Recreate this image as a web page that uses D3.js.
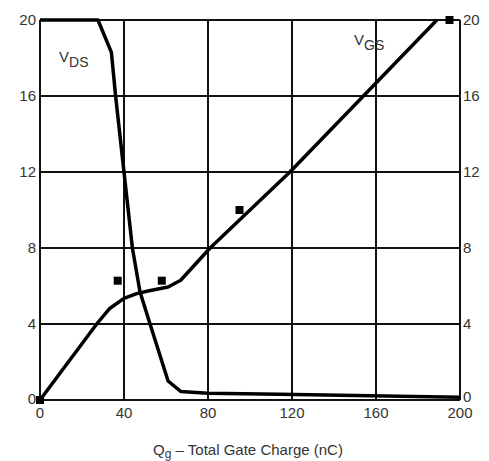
<!DOCTYPE html>
<html>
<head>
<meta charset="utf-8">
<script src="https://cdn.jsdelivr.net/npm/d3@7"></script>
<style>
  body { margin: 0; background: #fff; }
  text { font-family: "Liberation Sans", Arial, sans-serif; fill: #333; }
</style>
</head>
<body>
<div id="chart"></div>
<script>
// data (Qg in nC, volts)
const vdsQ = [0, 27.6, 34, 36, 40, 42, 44, 47.6, 52.4, 61, 67, 80, 114, 143, 200];
const vdsV = [20, 20, 18.3, 16, 12, 10, 8, 5.7, 4, 1, 0.45, 0.35, 0.3, 0.25, 0.15];
const vgsQ = [0, 27, 33, 40, 46, 52, 61, 67, 81, 119, 154, 189];
const vgsV = [0, 4, 4.8, 5.35, 5.6, 5.75, 5.95, 6.3, 8, 12, 16, 20];
const markQ = [0, 37, 58, 95, 195];
const markV = [0, 6.28, 6.28, 10, 20];
const xTicks = [0, 40, 80, 120, 160, 200];
const yTicks = [0, 4, 8, 12, 16, 20];

const width = 489, height = 461;
const plotL = 40, plotR = 460, plotT = 20, plotB = 400;

const svg = d3.select("#chart").append("svg")
	.attr("width", width).attr("height", height);

const x = d3.scaleLinear().domain([0, 200]).range([plotL, plotR]);
const y = d3.scaleLinear().domain([0, 20]).range([plotB, plotT]);

// grid
svg.append("g").selectAll("line").data(xTicks).join("line")
	.attr("x1", d => x(d)).attr("x2", d => x(d))
	.attr("y1", plotT).attr("y2", plotB)
	.attr("stroke", "#111").attr("stroke-width", 2);
svg.append("g").selectAll("line").data(yTicks).join("line")
	.attr("x1", plotL).attr("x2", plotR)
	.attr("y1", d => y(d)).attr("y2", d => y(d))
	.attr("stroke", "#111").attr("stroke-width", 2);

// tick labels
svg.append("g").selectAll("text").data(yTicks).join("text")
	.attr("x", plotL - 4).attr("y", d => y(d) - (d === 0 ? 1 : 0)).attr("dy", "0.35em")
	.attr("text-anchor", "end").attr("font-size", 15).text(d => d);
svg.append("g").selectAll("text").data(yTicks).join("text")
	.attr("x", plotR + 3).attr("y", d => y(d) - (d === 0 ? 3 : 0)).attr("dy", "0.35em")
	.attr("text-anchor", "start").attr("font-size", 15).text(d => d);
svg.append("g").selectAll("text").data(xTicks).join("text")
	.attr("x", d => x(d)).attr("y", plotB + 13).attr("dy", "0.35em")
	.attr("text-anchor", "middle").attr("font-size", 15).text(d => d);

// curves
const line = d3.line().x(d => x(d[0])).y(d => y(d[1]));
svg.append("path").datum(d3.zip(vdsQ, vdsV))
	.attr("d", line).attr("fill", "none")
	.attr("stroke", "#000").attr("stroke-width", 3.5).attr("stroke-linejoin", "round");
svg.append("path").datum(d3.zip(vgsQ, vgsV))
	.attr("d", line).attr("fill", "none")
	.attr("stroke", "#000").attr("stroke-width", 3.5).attr("stroke-linejoin", "round");

// markers
svg.append("g").selectAll("rect").data(d3.zip(markQ, markV)).join("rect")
	.attr("x", d => x(d[0]) - 4).attr("y", d => y(d[1]) - 4)
	.attr("width", 8).attr("height", 8).attr("fill", "#000");

// curve labels
const vds = svg.append("text").attr("x", 59).attr("y", 62).attr("font-size", 15);
vds.append("tspan").text("V");
vds.append("tspan").attr("dy", 5).attr("font-size", 14).text("DS");
const vgs = svg.append("text").attr("x", 354).attr("y", 45).attr("font-size", 15);
vgs.append("tspan").text("V");
vgs.append("tspan").attr("dy", 5).attr("font-size", 14).text("GS");

// axis title
const title = svg.append("text").attr("x", 248).attr("y", 455)
	.attr("text-anchor", "middle").attr("font-size", 15);
title.append("tspan").text("Q");
title.append("tspan").attr("dy", 3).attr("font-size", 12).text("g");
title.append("tspan").attr("dy", -3).text(" – Total Gate Charge (nC)");
</script>
</body>
</html>
